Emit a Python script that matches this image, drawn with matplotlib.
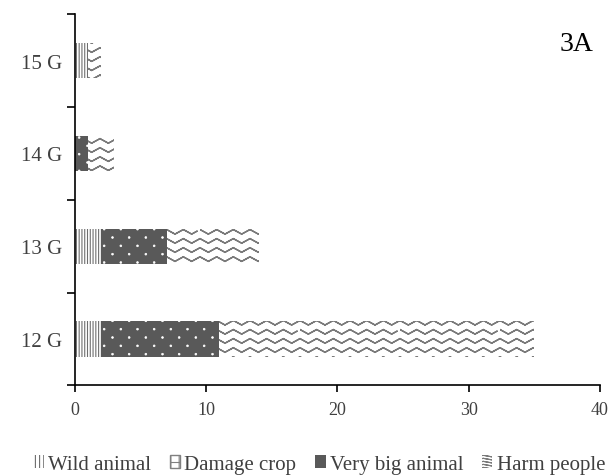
import numpy as np
import matplotlib
matplotlib.use("Agg")
import matplotlib.pyplot as plt
from matplotlib.path import Path
from matplotlib import hatch as mhatch
from matplotlib.patches import Patch
import warnings
warnings.filterwarnings("ignore")

# ---- data ----
categories = ["12 G", "13 G", "14 G", "15 G"]
wild_animal = [2, 2, 0, 1]
damage_crop = [0, 0, 0, 0]
very_big_animal = [9, 5, 1, 0]
harm_people = [24, 7, 2, 1]
series_names = ["Wild animal", "Damage crop", "Very big animal", "Harm people"]
x_ticks = [0, 10, 20, 30, 40]
panel_label = "3A"


# ---- custom zigzag hatch ('~') ----
class ZigZagHatch(mhatch.HatchPatternBase):
    def __init__(self, hatch, density):
        n = hatch.count('~')
        self.num_rows = n * 11
        self.periods = 6
        self.pts = 2 * self.periods + 1
        self.num_vertices = self.num_rows * (2 * self.pts - 1)

    def set_vertices_and_codes(self, vertices, codes):
        xs = np.linspace(0, 1, self.pts)
        amp = 0.25 / max(self.num_rows, 1)
        k = 0
        for r in range(self.num_rows):
            y0 = (r + 0.5) / self.num_rows
            line = [(x, y0 + (amp if j % 2 == 0 else -amp)) for j, x in enumerate(xs)]
            line = line + line[-2::-1]
            for j, p in enumerate(line):
                vertices[k] = p
                codes[k] = Path.MOVETO if j == 0 else Path.LINETO
                k += 1


# ---- custom sparse dot hatch ('d') ----
class DotHatch(mhatch.HatchPatternBase):
    def __init__(self, hatch, density):
        n = hatch.count('d')
        self.rows = n * 12
        self.cols = n * 6
        self.shape = Path.unit_circle()
        self.nv = len(self.shape.vertices)
        self.num_vertices = self.rows * self.cols * self.nv if n else 0

    def set_vertices_and_codes(self, vertices, codes):
        r = 0.009
        sv = self.shape.vertices * r
        sc = self.shape.codes
        k = 0
        for i in range(self.rows):
            y0 = (i + 0.5) / self.rows
            off = 0.5 if i % 2 else 0.0
            for j in range(self.cols):
                x0 = (j + 0.25 + off) / self.cols
                vertices[k:k + self.nv] = sv + (x0, y0)
                codes[k:k + self.nv] = sc
                k += self.nv


for cls in (ZigZagHatch, DotHatch):
    if cls not in mhatch._hatch_types:
        mhatch._hatch_types.append(cls)

plt.rcParams['font.family'] = ['Liberation Serif', 'DejaVu Serif']

fig = plt.figure(figsize=(6.14, 4.77), dpi=100)
ax = fig.add_axes([0.122, 0.19, 0.855, 0.778])

y = np.arange(len(categories))
h = 0.38

styles = [
    dict(facecolor="white", edgecolor="#6e6e6e", hatch="||||||", hlw=0.8),
    dict(facecolor="white", edgecolor="#6e6e6e", hatch="++", hlw=0.8),
    dict(facecolor="#595959", edgecolor="white", hatch="d", hlw=0.5),
    dict(facecolor="white", edgecolor="#7a7a7a", hatch="~", hlw=1.0),
]

left = np.zeros(len(categories))
for vals, st in zip([wild_animal, damage_crop, very_big_animal, harm_people], styles):
    plt.rcParams['hatch.linewidth'] = st["hlw"]
    vals = np.array(vals, dtype=float)
    ax.barh(y, vals, height=h, left=left, facecolor=st["facecolor"],
            edgecolor=st["edgecolor"], hatch=st["hatch"], linewidth=0)
    left = left + vals

ax.set_xlim(0, 40)
ax.set_ylim(-0.5, len(categories) - 0.5)
ax.set_xticks(x_ticks)
ax.set_yticks(y)
ax.set_yticklabels(categories)
ax.set_yticks(np.arange(len(categories) + 1) - 0.5, minor=True)
ax.tick_params(axis='y', which='major', length=0, labelsize=15, pad=9, colors="#404040")
ax.tick_params(axis='y', which='minor', length=6, width=1.2, direction='out')
ax.tick_params(axis='x', length=5, width=1.2, direction='out', labelsize=13,
               colors="#404040", pad=6)
ax.tick_params(axis='both', which='both', color="black")
for s in ["top", "right"]:
    ax.spines[s].set_visible(False)
for s in ["left", "bottom"]:
    ax.spines[s].set_linewidth(1.2)

ax.text(0.987, 0.955, panel_label, transform=ax.transAxes, ha="right", va="top",
        fontsize=20, color="black")

handles = []
leg_styles = [
    dict(facecolor="white", edgecolor="#6e6e6e", hatch="||||", lw=0),
    dict(facecolor="white", edgecolor="#808080", hatch="++", lw=1.0),
    dict(facecolor="#595959", edgecolor="#595959", hatch=None, lw=0),
    dict(facecolor="white", edgecolor="#7a7a7a", hatch="~~~", lw=0),
]
plt.rcParams['hatch.linewidth'] = 0.8
for name, st in zip(series_names, leg_styles):
    handles.append(Patch(facecolor=st["facecolor"], edgecolor=st["edgecolor"],
                         hatch=st["hatch"], linewidth=st["lw"], label=name))
fig.legend(handles=handles, loc="lower center", bbox_to_anchor=(0.52, -0.035),
           ncol=4, frameon=False, fontsize=15, handlelength=0.5, handleheight=0.55,
           handletextpad=0.2, columnspacing=0.9, labelcolor="#404040")

fig.savefig("out.png", dpi=100)
